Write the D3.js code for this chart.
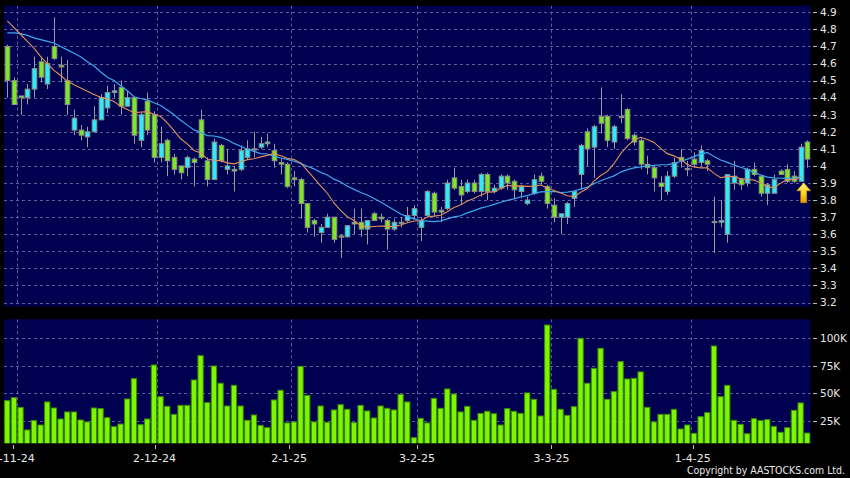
<!DOCTYPE html>
<html><head><meta charset="utf-8">
<script src="https://cdn.jsdelivr.net/npm/d3@7"></script>
<style>html,body{margin:0;padding:0;background:#000;}svg{display:block;}</style>
</head><body>
<svg id="c" width="850" height="478"></svg>
<script>
const opens = [4.70,4.50,4.41,4.40,4.45,4.61,4.48,4.70,4.59,4.50,
4.21,4.21,4.17,4.20,4.27,4.34,4.43,4.46,4.35,4.40,
4.15,4.38,4.30,4.05,4.15,4.05,4.00,3.99,4.04,4.27,
4.03,3.92,4.12,3.98,3.98,3.98,4.05,4.10,4.11,4.13,
4.09,4.02,4.01,3.93,3.92,3.78,3.68,3.61,3.64,3.70,
3.59,3.585,3.67,3.67,3.63,3.72,3.70,3.68,3.63,3.67,
3.68,3.71,3.64,3.71,3.84,3.74,3.75,3.93,3.88,3.85,
3.90,3.85,3.95,3.85,3.87,3.94,3.91,3.85,3.78,3.84,
3.94,3.88,3.77,3.70,3.70,3.81,3.95,4.20,4.11,4.29,
4.29,4.14,4.29,4.33,4.18,4.15,4.01,3.99,3.90,3.85,
3.94,4.05,3.985,4.04,4.02,4.03,3.675,3.67,3.60,3.90,
3.92,3.90,3.98,3.94,3.84,3.84,3.97,3.98,3.94,3.91,
4.14];
const closes = [4.50,4.36,4.40,4.45,4.57,4.52,4.60,4.63,4.58,4.36,
4.28,4.18,4.20,4.27,4.40,4.43,4.44,4.35,4.40,4.18,
4.30,4.21,4.05,4.13,4.03,3.98,3.96,4.05,4.02,4.05,
3.92,4.14,4.03,4.00,3.97,4.09,4.10,4.10,4.13,4.14,
4.03,4.01,3.88,3.92,3.78,3.64,3.66,3.64,3.70,3.57,
3.585,3.65,3.66,3.63,3.68,3.68,3.69,3.63,3.67,3.67,
3.71,3.75,3.68,3.85,3.73,3.73,3.90,3.87,3.83,3.90,
3.85,3.95,3.85,3.87,3.94,3.90,3.86,3.88,3.80,3.92,
3.91,3.78,3.70,3.72,3.78,3.85,4.12,4.10,4.23,4.25,
4.15,4.23,4.29,4.16,4.14,4.01,3.99,3.93,3.88,3.94,
4.02,4.03,3.985,4.01,4.09,4.01,3.67,3.68,3.95,3.94,
3.89,3.98,3.95,3.84,3.89,3.92,3.95,3.91,3.91,4.11,
4.04];
const highs = [4.71,4.52,4.41,4.48,4.64,4.64,4.64,4.87,4.64,4.62,
4.33,4.24,4.23,4.35,4.42,4.47,4.48,4.50,4.44,4.40,
4.31,4.43,4.32,4.23,4.16,4.07,4.00,4.06,4.05,4.33,
4.05,4.16,4.13,4.10,4.00,4.12,4.15,4.20,4.17,4.19,
4.13,4.04,4.02,3.97,3.93,3.78,3.69,3.66,3.72,3.70,
3.60,3.65,3.75,3.75,3.68,3.73,3.72,3.69,3.69,3.70,
3.76,3.77,3.70,3.86,3.85,3.76,3.92,3.99,3.92,3.92,
3.92,3.96,3.96,3.89,3.95,3.95,3.92,3.89,3.82,3.95,
3.96,3.89,3.81,3.72,3.79,3.86,4.13,4.22,4.24,4.46,
4.30,4.24,4.42,4.34,4.19,4.16,4.06,4.00,3.94,3.97,
4.05,4.10,4.03,4.08,4.12,4.04,3.82,3.80,3.95,4.03,
3.93,3.99,4.02,3.95,3.90,3.95,3.98,4.01,3.97,4.13,
4.15];
const lows = [4.40,4.36,4.30,4.36,4.40,4.49,4.45,4.62,4.49,4.30,
4.18,4.15,4.11,4.20,4.27,4.31,4.40,4.30,4.35,4.13,
4.11,4.18,4.02,4.02,3.94,3.95,3.92,3.94,3.88,4.04,
3.88,3.92,4.02,3.95,3.85,3.97,4.04,4.05,4.10,4.11,
3.99,3.95,3.87,3.88,3.69,3.61,3.585,3.55,3.64,3.55,
3.46,3.58,3.60,3.585,3.54,3.68,3.67,3.51,3.62,3.64,
3.67,3.69,3.56,3.70,3.70,3.67,3.74,3.86,3.77,3.84,
3.84,3.82,3.80,3.84,3.86,3.86,3.81,3.81,3.77,3.83,
3.89,3.75,3.67,3.60,3.66,3.76,3.86,4.00,3.93,4.19,
4.11,4.10,4.25,4.15,4.12,3.98,3.95,3.85,3.80,3.83,
3.93,3.99,3.94,3.99,4.00,3.97,3.49,3.64,3.55,3.86,
3.86,3.88,3.94,3.82,3.77,3.84,3.95,3.90,3.90,3.91,
3.99];
const volumes = [43.3,46.0,37.2,16.6,25.1,21.1,42.1,36.6,26.6,33.0,
33.0,25.7,23.9,36.6,36.0,27.8,19.6,22.0,44.8,63.3,
21.4,26.6,75.7,46.9,38.1,30.8,39.0,39.0,62.1,84.2,
41.5,74.8,59.1,38.4,57.2,38.4,25.4,30.2,20.8,18.7,
43.9,52.7,23.0,23.9,74.5,48.1,23.9,38.4,23.6,34.8,
39.6,35.4,23.3,39.0,33.9,27.5,38.4,36.3,34.8,49.0,
42.1,9.6,27.2,23.0,45.4,36.3,53.9,49.3,33.0,38.1,
25.4,31.7,33.6,31.4,21.1,36.0,33.6,31.7,50.3,44.5,
29.3,112.1,53.6,35.4,29.9,37.8,100.0,59.1,72.7,90.9,
44.5,51.5,78.8,63.0,63.6,69.4,37.2,23.9,30.8,30.8,
35.4,17.5,21.1,13.5,28.7,32.4,93.0,46.9,57.2,25.4,
21.7,13.2,26.9,25.1,26.0,19.9,14.5,18.7,34.5,41.2,
13.8];
const ma10Head = [4.85,4.81,4.77,4.73,4.69,4.64,4.60,4.56,4.53];
const ma20Head = [4.78,4.78,4.775,4.765,4.75,4.74,4.73,4.72,4.70,4.68,4.66,4.64,4.61,4.585,4.55,4.52,4.50,4.47,4.44];
const tickIndex = [2,23,43,62,82,103];
const tickLabels = ["1-11-24","2-12-24","2-1-25","3-2-25","3-3-25","1-4-25"];
const priceTicks = [4.9,4.8,4.7,4.6,4.5,4.4,4.3,4.2,4.1,4.0,3.9,3.8,3.7,3.6,3.5,3.4,3.3,3.2];
const volTicks = [25,50,75,100];
const volTickLabels = ["25K","50K","75K","100K"];
const arrowIndex = 119;
const maLastIndex = 119;

const N = closes.length;
function sma(period, head) {
  return closes.map((c, i) => {
    if (i < period - 1) return head[i];
    return d3.mean(closes.slice(i - period + 1, i + 1));
  });
}
const ma10 = sma(10, ma10Head);
const ma20 = sma(20, ma20Head);

const svg = d3.select("#c");
svg.append("rect").attr("width",850).attr("height",478).attr("fill","#000");

const PL = 4, PR = 810.7;
const P1 = {top:5.7, bottom:306.5};
const P2 = {top:319.3, bottom:443.3};
const BG = "#000050", GRID = "#5f5f98";

const x = d3.scaleBand().domain(d3.range(N)).range([PL, PR]).padding(0);
const xc = i => x(i) + x.bandwidth()/2;
const xTick = d3.scaleLinear().domain([0, 120]).range([-0.15, 807.1]);
const y = d3.scaleLinear().domain([3.2, 4.9]).range([302.5, 12.3]);
const yv = d3.scaleLinear().domain([0, 100]).range([448.2, 338.3]);

const defs = svg.append("defs");
defs.append("clipPath").attr("id","cp1").append("rect")
  .attr("x",PL).attr("y",P1.top).attr("width",PR-PL).attr("height",P1.bottom-P1.top);
defs.append("clipPath").attr("id","cp2").append("rect")
  .attr("x",PL).attr("y",P2.top).attr("width",PR-PL).attr("height",P2.bottom-P2.top);
const grad = defs.append("linearGradient").attr("id","ag").attr("x1",0).attr("x2",0).attr("y1",0).attr("y2",1);
grad.append("stop").attr("offset","0%").attr("stop-color","#fff27a");
grad.append("stop").attr("offset","55%").attr("stop-color","#ffd21f");
grad.append("stop").attr("offset","100%").attr("stop-color","#e89a00");

// panels
svg.append("rect").attr("x",PL).attr("y",P1.top).attr("width",PR-PL).attr("height",P1.bottom-P1.top).attr("fill",BG);
svg.append("rect").attr("x",PL).attr("y",P2.top).attr("width",PR-PL).attr("height",P2.bottom-P2.top).attr("fill",BG);

// grid - price
const g1 = svg.append("g").attr("clip-path","url(#cp1)");
g1.selectAll("line.h").data(priceTicks).join("line")
  .attr("x1",PL).attr("x2",PR).attr("y1",d=>Math.round(y(d))+0.5).attr("y2",d=>Math.round(y(d))+0.5)
  .attr("stroke",GRID).attr("stroke-dasharray","3,3");
g1.selectAll("line.v").data(tickIndex).join("line").attr("class","v")
  .attr("x1",d=>Math.round(x(d))+0.5).attr("x2",d=>Math.round(x(d))+0.5).attr("y1",P1.top).attr("y2",P1.bottom)
  .attr("stroke",GRID).attr("stroke-dasharray","3,3");

// grid - volume
const g2 = svg.append("g").attr("clip-path","url(#cp2)");
g2.selectAll("line.h").data(volTicks).join("line")
  .attr("x1",PL).attr("x2",PR).attr("y1",d=>Math.round(yv(d))+0.5).attr("y2",d=>Math.round(yv(d))+0.5)
  .attr("stroke",GRID).attr("stroke-dasharray","3,3");
g2.selectAll("line.v").data(tickIndex).join("line").attr("class","v")
  .attr("x1",d=>Math.round(x(d))+0.5).attr("x2",d=>Math.round(x(d))+0.5).attr("y1",P2.top).attr("y2",P2.bottom)
  .attr("stroke",GRID).attr("stroke-dasharray","3,3");

// volume bars
g2.selectAll("rect.vb").data(volumes).join("rect").attr("class","vb")
  .attr("x",(d,i)=>x(i)+0.6).attr("width",x.bandwidth()-1.4)
  .attr("y",d=>yv(d)).attr("height",d=>Math.max(0,P2.bottom+2-yv(d)))
  .attr("fill","#7df700").attr("stroke","#3d8a08").attr("stroke-width",1);

// candles
const idx = d3.range(N);
const UP="#26eefc", DOWN="#7aec1e", FLAT="#b8b8b8";
const col = i => closes[i] > opens[i] ? UP : (closes[i] < opens[i] ? DOWN : FLAT);
g1.selectAll("line.w").data(idx).join("line").attr("class","w")
  .attr("x1",i=>Math.round(xc(i))+0.5).attr("x2",i=>Math.round(xc(i))+0.5)
  .attr("y1",i=>y(highs[i])).attr("y2",i=>y(lows[i]))
  .attr("stroke","#9a9a9a").attr("stroke-width",1);
const bw = 4.6;
g1.selectAll("rect.b").data(idx).join("rect").attr("class","b")
  .attr("x",i=>Math.round(xc(i))+0.5-bw/2).attr("width",bw)
  .attr("y",i=>y(Math.max(opens[i],closes[i])))
  .attr("height",i=>Math.max(1.2, Math.abs(y(opens[i])-y(closes[i]))))
  .attr("fill",col).attr("stroke","#8d8d8d").attr("stroke-width",1);

// moving averages
const maIdx = d3.range(0, maLastIndex+1);
const line = arr => d3.line().x(i=>xc(i)).y(i=>y(arr[i])).curve(d3.curveLinear)(maIdx);
g1.append("path").attr("d",line(ma20)).attr("fill","none").attr("stroke","#3da8ee").attr("stroke-width",1.2);
g1.append("path").attr("d",line(ma10)).attr("fill","none").attr("stroke","#e3905c").attr("stroke-width",1.1);

// arrow
const ax = xc(arrowIndex)+3, ay = y(lows[arrowIndex])+1.5;
svg.append("path")
  .attr("d",`M${ax},${ay} L${ax+7},${ay+8} L${ax+3},${ay+8} L${ax+3},${ay+20} L${ax-3},${ay+20} L${ax-3},${ay+8} L${ax-7},${ay+8} Z`)
  .attr("fill","url(#ag)").attr("stroke","#c88400").attr("stroke-width",0.6);

// right axis labels
const FONT = "'DejaVu Sans', Verdana, sans-serif";
const TXT = "#e8e8e8";
const ra = svg.append("g");
ra.selectAll("line.t").data(priceTicks).join("line")
  .attr("x1",813).attr("x2",817).attr("y1",d=>Math.round(y(d))+0.5).attr("y2",d=>Math.round(y(d))+0.5)
  .attr("stroke","#bbb");
ra.selectAll("text.p").data(priceTicks).join("text")
  .attr("x",820).attr("y",d=>y(d)).attr("dy","0.36em")
  .attr("fill",TXT).attr("font-family",FONT).attr("font-size","10.5px")
  .text(d=> d===4 ? "4" : d3.format(".1f")(d));
ra.selectAll("line.tv").data(volTicks).join("line").attr("class","tv")
  .attr("x1",813).attr("x2",817).attr("y1",d=>Math.round(yv(d))+0.5).attr("y2",d=>Math.round(yv(d))+0.5)
  .attr("stroke","#bbb");
ra.selectAll("text.v").data(volTicks).join("text").attr("class","v")
  .attr("x",820).attr("y",d=>yv(d)).attr("dy","0.36em")
  .attr("fill",TXT).attr("font-family",FONT).attr("font-size","10.5px")
  .text((d,i)=>volTickLabels[i]);

// bottom axis
const ba = svg.append("g");
ba.selectAll("line").data(tickIndex).join("line")
  .attr("x1",i=>Math.round(xTick(i))+0.5).attr("x2",i=>Math.round(xTick(i))+0.5).attr("y1",445).attr("y2",449)
  .attr("stroke","#bbb");
ba.selectAll("text").data(tickIndex).join("text")
  .attr("x",i=>xTick(i)).attr("y",462).attr("text-anchor","middle")
  .attr("fill",TXT).attr("font-family",FONT).attr("font-size","11px")
  .text((d,i)=>tickLabels[i]);

svg.append("text").attr("x",845).attr("y",474).attr("text-anchor","end")
  .attr("fill",TXT).attr("font-family",FONT).attr("font-size","10px")
  .attr("textLength",158).attr("lengthAdjust","spacingAndGlyphs")
  .text("Copyright by AASTOCKS.com Ltd.");
</script>
</body></html>
